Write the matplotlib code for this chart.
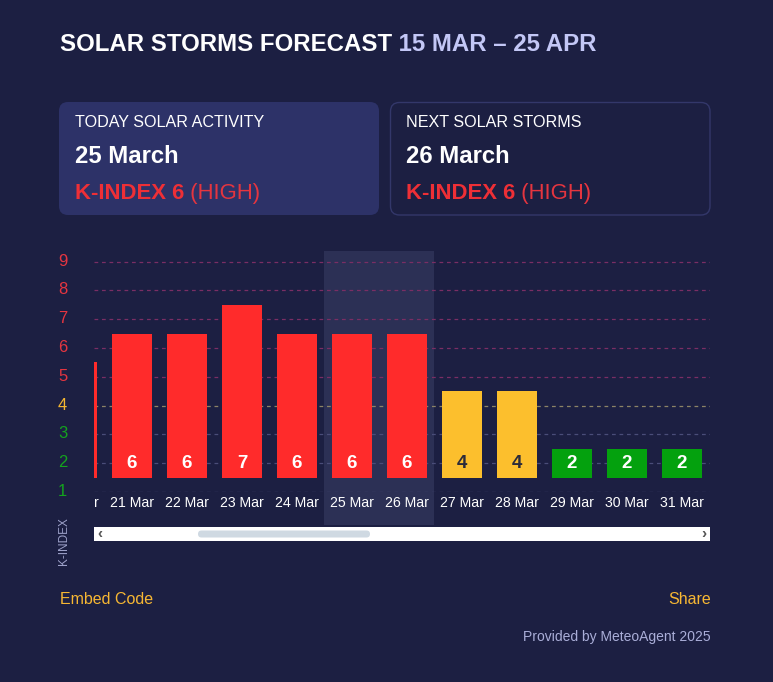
import matplotlib
matplotlib.use("Agg")
import matplotlib.pyplot as plt
from matplotlib.patches import FancyBboxPatch, Rectangle
from matplotlib.transforms import Bbox, TransformedBbox, blended_transform_factory, ScaledTranslation

plt.rcParams['font.family'] = ['Liberation Sans', 'DejaVu Sans']

# ---- data ----
dates = ['20 Mar', '21 Mar', '22 Mar', '23 Mar', '24 Mar', '25 Mar',
         '26 Mar', '27 Mar', '28 Mar', '29 Mar', '30 Mar', '31 Mar']
kindex = [5, 6, 6, 7, 6, 6, 6, 4, 4, 2, 2, 2]
levels = [1, 2, 3, 4, 5, 6, 7, 8, 9]
title_main = "SOLAR STORMS FORECAST"
title_range = " 15 MAR \u2013 25 APR"
highlight = ('25 Mar', '26 Mar')

W, H = 773, 682
BG = '#1c1f42'
RED = '#ff2b2b'
YEL = '#fcbf2d'
GRN = '#04a10e'

def col(v):
    if v >= 5:
        return RED
    if v == 4:
        return YEL
    return GRN

def tick_col(v):
    if v >= 5:
        return '#e53540'
    if v == 4:
        return '#f5b731'
    return '#14a31e'

def grid_col(v):
    if v >= 5:
        return '#7a2e64'
    if v == 4:
        return '#8c8466'
    return '#4a4d79'

fig = plt.figure(figsize=(W / 100, H / 100), dpi=100)
fig.patch.set_facecolor(BG)

# background "pixel" axes
bg = fig.add_axes([0, 0, 1, 1])
bg.set_xlim(0, W)
bg.set_ylim(H, 0)
bg.axis('off')
bg.set_zorder(0)

# title
t1 = bg.text(60, 51, title_main, color='white', fontsize=17.3, fontweight='bold',
             va='baseline', ha='left')
bg.annotate(title_range, xy=(1, 0), xycoords=t1, va='bottom', ha='left',
            color='#c3c7f6', fontsize=17.3, fontweight='bold')

# cards
card1 = FancyBboxPatch((59, 102), 320, 113, boxstyle='round,pad=0,rounding_size=9',
                       fc='#2d3268', ec='none')
card2 = FancyBboxPatch((390.5, 102.5), 319.5, 112.5, boxstyle='round,pad=0,rounding_size=9',
                       fc=BG, ec='#33376a', lw=1.0)
bg.add_patch(card1)
bg.add_patch(card2)

cards = [(75, 'TODAY SOLAR ACTIVITY', '25 March', 6),
         (406, 'NEXT SOLAR STORMS', '26 March', 6)]
for x0, head, day, k in cards:
    bg.text(x0, 127, head, color='white', fontsize=11.6, va='baseline', ha='left')
    bg.text(x0, 163, day, color='white', fontsize=17.2, fontweight='bold',
            va='baseline', ha='left')
    ka = bg.text(x0, 199, f'K-INDEX {k}', color='#ee2f36', fontsize=15.9,
                 fontweight='bold', va='baseline', ha='left')
    bg.annotate(' (HIGH)', xy=(1, 0), xycoords=ka, va='bottom', ha='left',
                color='#e5353f', fontsize=15.9)

# footer
bg.text(60, 599, 'Embed Code', color='#f7b733', fontsize=11.5, va='center', ha='left')
bg.text(711, 599, 'Share', color='#f7b733', fontsize=11.5, va='center', ha='right')
bg.text(711, 637, 'Provided by MeteoAgent 2025', color='#aaaed8', fontsize=10,
        va='center', ha='right')

# K-INDEX axis title
bg.text(64, 541, 'K-INDEX', color='#9ea2ca', fontsize=8.5, rotation=90,
        va='center', ha='center')

# scrollbar
bg.add_patch(Rectangle((94, 527), 616, 14, fc='white', ec='none'))
bg.add_patch(FancyBboxPatch((198, 530.5), 172, 7, boxstyle='round,pad=0,rounding_size=3.5',
                            fc='#cfd9e2', ec='none'))
bg.text(100, 534, '\u2039', color='#555555', fontsize=11, fontweight='bold',
        va='center', ha='center')
bg.text(704, 534, '\u203a', color='#555555', fontsize=11, fontweight='bold',
        va='center', ha='center')

# ---- chart axes ----
L, R = 94, 710
T, B = 251, 492
ax = fig.add_axes([L / W, 1 - B / H, (R - L) / W, (B - T) / H])
ax.set_zorder(1)
ax.patch.set_alpha(0)
ax.set_xlim(0.309, 11.51)
ax.set_ylim(1, 9.37)
for s in ax.spines.values():
    s.set_visible(False)
ax.set_xticks([])

x = list(range(len(dates)))

# highlight band for today/next
hi0 = dates.index(highlight[0])
hi1 = dates.index(highlight[1])
ax.axvspan(hi0 - 0.5, hi1 + 0.5, ymin=-(525 - B) / (B - T), ymax=1,
           color='#2c3055', clip_on=False, zorder=0, lw=0)

# gridlines
for v in levels:
    ax.axhline(v, color=grid_col(v), lw=0.9, dashes=(3, 3), zorder=1)

# y ticks
ax.set_yticks(levels)
ax.set_yticklabels([str(v) for v in levels])
ax.tick_params(axis='y', length=0, pad=22.5, labelsize=12)
up = ScaledTranslation(0, 2 / 100, fig.dpi_scale_trans)
for lab, v in zip(ax.get_yticklabels(), levels):
    lab.set_color(tick_col(v))
    lab.set_horizontalalignment('center')
    lab.set_transform(lab.get_transform() + up)

# bars
heights = [v - 1 for v in kindex]
ax.bar(x, heights, bottom=1.5, width=0.727, color=[col(v) for v in kindex],
       zorder=2, lw=0)

clip = TransformedBbox(Bbox([[L / W, 0], [R / W, 1]]), fig.transFigure)
for xi, v in zip(x, kindex):
    t = ax.text(xi, 2.0, str(v), ha='center', va='center', fontsize=13.5,
                fontweight='bold', color='#2b2b3a' if v == 4 else 'white', zorder=3)
    t.set_clip_box(clip)
    t.set_clip_on(True)

# date labels
trans = blended_transform_factory(ax.transData, ax.transAxes)
for xi, d in zip(x, dates):
    t = ax.text(xi, -(503 - B) / (B - T), d, transform=trans, ha='center',
                va='center', fontsize=10.2, color='white', zorder=3)
    t.set_clip_box(clip)
    t.set_clip_on(True)

fig.savefig('out.png', dpi=100, facecolor=BG)
